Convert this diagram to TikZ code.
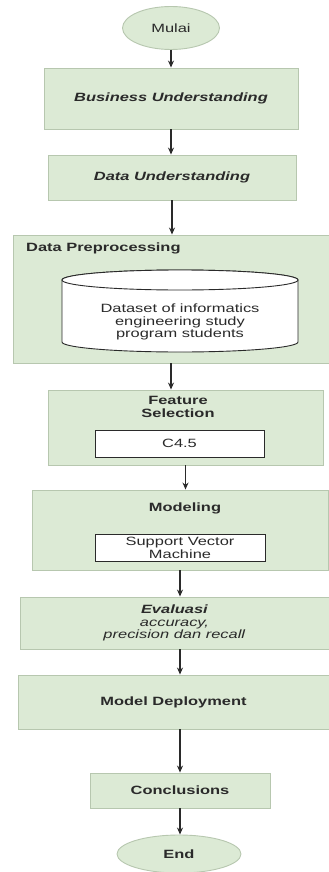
\documentclass[tikz,border=0pt]{standalone}
\usepackage{fontspec}
\setmainfont[FakeStretch=1.37]{Liberation Sans}
\usetikzlibrary{arrows.meta,shapes.geometric}
\definecolor{stepfill}{HTML}{DCEAD5}
\definecolor{stepline}{HTML}{B7C7AF}
\definecolor{ink}{HTML}{2A2A2A}

\begin{document}
\begin{tikzpicture}[x=1pt,y=-1pt,
  every node/.style={text=ink,font=\fontsize{12}{12.5}\selectfont,align=center,inner sep=0pt},
  stage/.style={rectangle,draw=stepline,fill=stepfill,line width=0.9pt},
  term/.style={ellipse,draw=stepline,fill=stepfill,line width=0.9pt},
  inbox/.style={rectangle,draw=ink,fill=white,line width=1pt},
  cyl/.style={draw=ink,fill=white,line width=0.9pt},
  flow/.style={draw=ink,line width=1.1pt,-{Stealth[length=7pt,width=6pt]}}]
\useasboundingbox (0,0) rectangle (329,872);

\node[term,minimum width=97pt,minimum height=43pt] (start) at (171,28) {Mulai};
\node[stage,minimum width=254pt,minimum height=61pt] (bu) at (171,98.5) {\bfseries\itshape Business Understanding};
\node[stage,minimum width=248pt,minimum height=45pt] (du) at (172,177.5) {\bfseries\itshape Data Understanding};

\node[stage,minimum width=316pt,minimum height=128pt] (dp) at (171,299) {};
\node[anchor=west,font=\fontsize{12}{12.5}\selectfont\bfseries] (dptitle) at (26,248) {Data Preprocessing};
\filldraw[cyl] (62,280) -- (62,342) arc[start angle=180,end angle=360,x radius=118pt,y radius=10pt]
  -- (298,280) arc[start angle=0,end angle=180,x radius=118pt,y radius=10pt] -- cycle;
\draw[cyl] (180,280) ellipse[x radius=118pt,y radius=10pt];
\node (data) at (180,322) {Dataset of informatics\\engineering study\\program students};

\node[stage,minimum width=275pt,minimum height=75pt] (fs) at (185.5,427.5) {};
\node[font=\fontsize{12}{13}\selectfont\bfseries] (fstitle) at (178,406.5) {Feature\\Selection};
\node[inbox,minimum width=169pt,minimum height=27pt] (c45) at (179.5,443.5) {C4.5};

\node[stage,minimum width=296pt,minimum height=80pt] (mod) at (180,530) {};
\node[font=\fontsize{12}{12.5}\selectfont\bfseries] (modtitle) at (185,508) {Modeling};
\node[inbox,minimum width=170pt,minimum height=27pt,font=\fontsize{12}{13}\selectfont] (svm) at (180,547.5) {Support Vector\\Machine};

\node[stage,minimum width=309pt,minimum height=52pt] (ev) at (174.5,623) {\textbf{\textit{Evaluasi}}\\\textit{accuracy,}\\\textit{precision dan recall}};
\node[stage,minimum width=311pt,minimum height=54pt] (md) at (173.5,702) {\bfseries Model Deployment};
\node[stage,minimum width=180pt,minimum height=35pt] (con) at (180,790.5) {\bfseries Conclusions};
\node[term,minimum width=124pt,minimum height=38pt] (stop) at (179,854) {\bfseries End};

\draw[flow] (start.south) -- (bu.north);
\draw[flow] (bu.south) -- (bu.south |- du.north);
\draw[flow] (du.south) -- (du.south |- dp.north);
\draw[flow] (dp.south) -- (dp.south |- fs.north);
\draw[flow] (fs.south) -- (fs.south |- mod.north);
\draw[flow] (mod.south) -- (ev.north -| mod.south);
\draw[flow] (ev.south -| mod.south) -- (md.north -| mod.south);
\draw[flow] (md.south -| con.south) -- (con.north);
\draw[flow] (con.south) -- (stop.north -| con.south);
\end{tikzpicture}
\end{document}
